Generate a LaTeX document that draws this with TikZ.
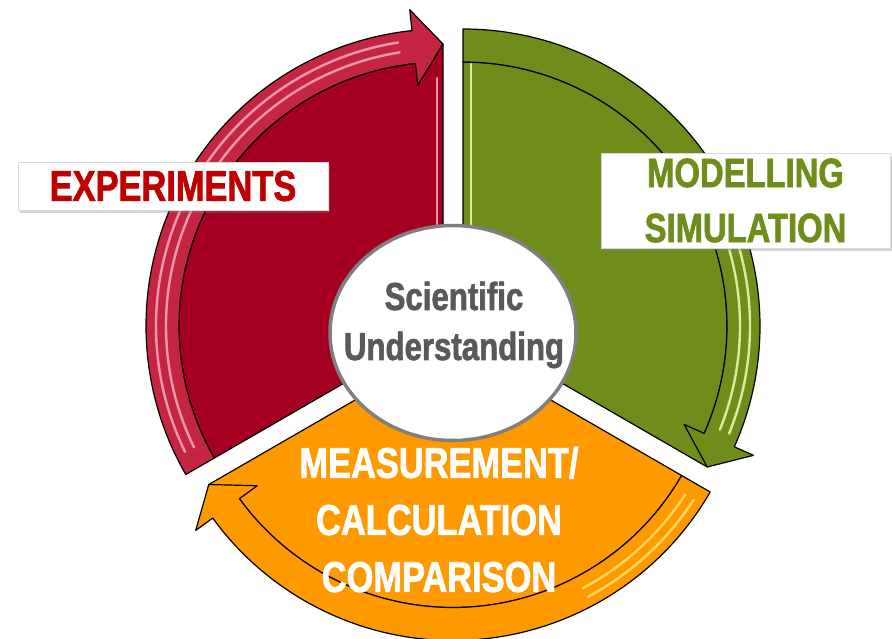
\documentclass[tikz,border=0pt]{standalone}
\usepackage{fontspec}
\newfontfamily\diagfont[FakeStretch=0.8, BoldFeatures={FakeBold=1.6}]{Liberation Sans}
\usetikzlibrary{shapes.geometric, shadows}

\definecolor{expred}{HTML}{A50021}
\definecolor{expband}{HTML}{C42641}
\definecolor{expgloss}{HTML}{F7AEBD}
\definecolor{exptext}{HTML}{C00000}
\definecolor{modgreen}{HTML}{6F8D1A}
\definecolor{modgloss}{HTML}{EEFDB4}
\definecolor{measorange}{HTML}{FF9900}
\definecolor{measgloss}{HTML}{FFE36E}
\definecolor{hubgray}{HTML}{7F7F7F}
\definecolor{hubtext}{HTML}{595959}

\begin{document}
\begin{tikzpicture}[
    x=1pt, y=1pt,
    % Contorno de los sectores
    sector/.style={
        draw=black,
        line width=1.2pt,
        line join=round
    },
    % Brillo sobre las bandas
    gloss/.style={
        line width=2.4pt,
        opacity=0.85,
        line cap=round
    },
    % Cajas blancas de las etiquetas
    labelbox/.style={
        draw=black!15,
        fill=white,
        drop shadow={shadow xshift=2pt, shadow yshift=-3pt, opacity=0.35},
        inner sep=0pt,
        align=center
    },
    % Elipse central
    hubshape/.style={
        ellipse,
        draw=hubgray,
        line width=3.5pt,
        fill=white,
        minimum width=246,
        minimum height=215
    },
    bigfont/.style 2 args={font=\diagfont\bfseries\fontsize{#1}{#2}\selectfont}
]
    \useasboundingbox (0,0) rectangle (892,638);

    % ==========================================
    % EXPERIMENTS (SECTOR IZQUIERDO)
    % ==========================================
    \begin{scope}[shift={(443,312)}]
        \path[sector, fill=expred] (0,0) -- (210:264)
            arc[start angle=210, end angle=96, radius=264] -- (90:282) -- cycle;
        \draw[gloss, expgloss] (-6,0) -- (-6,248);
        \path[sector, fill=expband] (210:264)
            arc[start angle=210, end angle=96, radius=264]
            -- (96:242) -- (90:282) -- (96:318) -- (96:297)
            arc[start angle=96, end angle=210, radius=297] -- cycle;
        \draw[gloss, expgloss] (206:277) arc[start angle=206, end angle=99, radius=277];
        \draw[gloss, expgloss] (206:287) arc[start angle=206, end angle=99, radius=287];
    \end{scope}

    % ==========================================
    % MODELLING (SECTOR DERECHO)
    % ==========================================
    \begin{scope}[shift={(463,312)}]
        \path[sector, fill=modgreen] (0,0) -- (90:264)
            arc[start angle=90, end angle=-24, radius=264] -- (-30:282) -- cycle;
        \draw[gloss, modgloss] (8,0) -- (8,262);
        \path[sector, fill=modgreen] (90:264)
            arc[start angle=90, end angle=-24, radius=264]
            -- (-24:242) -- (-30:282) -- (-24:318) -- (-24:297)
            arc[start angle=-24, end angle=90, radius=297] -- cycle;
        \draw[gloss, modgloss] (35:277) arc[start angle=35, end angle=-22, radius=277];
        \draw[gloss, modgloss] (35:287) arc[start angle=35, end angle=-22, radius=287];
    \end{scope}

    % ==========================================
    % MEASUREMENT (SECTOR INFERIOR)
    % ==========================================
    \begin{scope}[shift={(453,294.5)}]
        \path[sector, fill=measorange] (0,0) -- (-30:264)
            arc[start angle=-30, end angle=-144, radius=264] -- (-150:282) -- cycle;
        \path[sector, fill=measorange] (-30:264)
            arc[start angle=-30, end angle=-144, radius=264]
            -- (-144:242) -- (-150:282) -- (-144:318) -- (-144:297)
            arc[start angle=-144, end angle=-30, radius=297] -- cycle;
        \draw[gloss, measgloss] (-33:277) arc[start angle=-33, end angle=-62, radius=277];
        \draw[gloss, measgloss] (-33:287) arc[start angle=-33, end angle=-62, radius=287];
    \end{scope}
    \node[bigfont={43}{57}, text=white, align=center] (meas) at (439,118.5)
        {MEASUREMENT/\\CALCULATION\\COMPARISON};

    % ==========================================
    % CENTRO
    % ==========================================
    \node[hubshape] (hub) at (453,305) {};
    \node[bigfont={39}{50}, text=hubtext, align=center] (hubtxt) at (454,313)
        {Scientific\\Understanding};

    % ==========================================
    % ETIQUETAS
    % ==========================================
    \node[labelbox, minimum width=310, minimum height=48, bigfont={43}{50}, text=exptext]
        (exp) at (173,452) {EXPERIMENTS};
    \node[labelbox, minimum width=289, minimum height=95, bigfont={41}{55}, text=modgreen]
        (mod) at (745.5,437.5) {MODELLING\\SIMULATION};

\end{tikzpicture}
\end{document}
